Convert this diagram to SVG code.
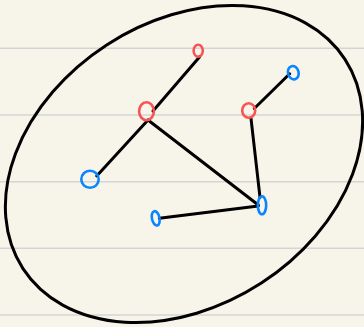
<svg xmlns="http://www.w3.org/2000/svg" width="364" height="327" viewBox="0 0 364 327">
<style>
.rule{stroke:#d4d4d4;stroke-width:1.5}
.edge{stroke:#000;stroke-width:3;stroke-linecap:round;fill:none}
.red{fill:none;stroke:#f75454;stroke-width:2.6}
.blue{fill:none;stroke:#0a84ff;stroke-width:2.6}
</style>
<rect width="364" height="327" fill="#f7f5ea"/>
<g id="rules">
<line class="rule" x1="0" y1="48.3" x2="364" y2="48.3"/>
<line class="rule" x1="0" y1="115" x2="364" y2="115"/>
<line class="rule" x1="0" y1="181.7" x2="364" y2="181.7"/>
<line class="rule" x1="0" y1="248.3" x2="364" y2="248.3"/>
<line class="rule" x1="0" y1="315" x2="364" y2="315"/>
</g>
<g id="boundary">
<ellipse cx="184" cy="164" rx="192" ry="142" transform="rotate(-33 184 164)" fill="none" stroke="#000" stroke-width="3"/>
</g>
<g id="connectors">
<line class="edge" x1="199.7" y1="56.7" x2="153" y2="111"/>
<line class="edge" x1="148" y1="120" x2="96.7" y2="176"/>
<line class="edge" x1="148" y1="120" x2="258.3" y2="205"/>
<line class="edge" x1="254.3" y1="108.5" x2="289.7" y2="73.8"/>
<line class="edge" x1="251" y1="118.3" x2="260" y2="197.3"/>
<line class="edge" x1="258.3" y1="206" x2="159.3" y2="218.3"/>
</g>
<g id="n-red-top"><ellipse class="red" cx="198.2" cy="50.7" rx="4.6" ry="6"/></g>
<g id="n-red-mid"><ellipse class="red" cx="146.5" cy="111.3" rx="7.4" ry="9"/></g>
<g id="n-red-right"><ellipse class="red" cx="248.7" cy="110.5" rx="6.5" ry="7.2"/></g>
<g id="n-blue-topright"><ellipse class="blue" cx="293.3" cy="72.7" rx="5.3" ry="6.8" transform="rotate(-15 293.3 72.7)"/></g>
<g id="n-blue-left"><ellipse class="blue" cx="90" cy="179.3" rx="8.7" ry="8.5"/></g>
<g id="n-blue-small"><ellipse class="blue" cx="155.7" cy="218.3" rx="3.8" ry="7.3" transform="rotate(-12 155.7 218.3)"/></g>
<g id="n-blue-right"><ellipse class="blue" cx="262" cy="205.3" rx="4.2" ry="9"/></g>
</svg>
